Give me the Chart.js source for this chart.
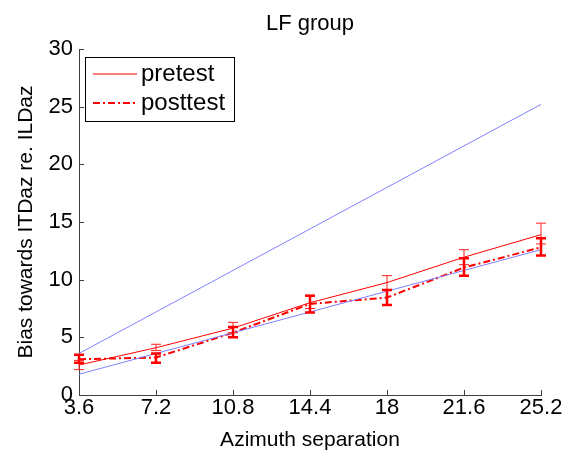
<!DOCTYPE html>
<html>
<head>
<meta charset="utf-8">
<script src="https://cdn.jsdelivr.net/npm/chart.js@4"></script>
<style>
html, body { margin: 0; padding: 0; background: #fff; }
</style>
</head>
<body>
<canvas id="chart" width="576" height="456"></canvas>
<script>
// azimuth separations and tick labels
const azimuth = [3.6, 7.2, 10.8, 14.4, 18, 21.6, 25.2];
const xTickLabels = ['3.6', '7.2', '10.8', '14.4', '18', '21.6', '25.2'];

// reference lines (full ITD bias and half of it)
const fullBias = [3.6, 7.2, 10.8, 14.4, 18, 21.6, 25.2];
const halfBias = [1.8, 3.6, 5.4, 7.2, 9, 10.8, 12.6];

// pretest mean + error range
const pretest = [2.6, 4.1, 5.8, 8.0, 9.75, 11.95, 13.9];
const pretestLow = [2.2, 3.85, 5.4, 7.5, 9.1, 11.3, 13.1];
const pretestHigh = [3.0, 4.4, 6.3, 8.65, 10.35, 12.6, 14.9];

// posttest mean + error range
const posttest = [3.1, 3.25, 5.4, 7.9, 8.45, 11.05, 12.8];
const posttestLow = [2.8, 2.8, 5.0, 7.15, 7.8, 10.35, 12.1];
const posttestHigh = [3.5, 3.6, 5.9, 8.6, 9.1, 11.85, 13.6];

const FONT = "'Liberation Sans', Arial, sans-serif";

const pts = (ys) => azimuth.map((x, i) => ({ x: x, y: ys[i] }));

// error bars drawn with the chart's own scales
const errorBars = {
    id: 'errorBars',
    afterDatasetsDraw(chart) {
        const { ctx, scales: { x, y } } = chart;
        chart.data.datasets.forEach(ds => {
            if (!ds.errLow) return;
            ctx.save();
            ctx.strokeStyle = ds.errColor;
            ctx.lineWidth = ds.errWidth;
            azimuth.forEach((v, i) => {
                const px = Math.round(x.getPixelForValue(v));
                const lo = y.getPixelForValue(ds.errLow[i]);
                const hi = y.getPixelForValue(ds.errHigh[i]);
                const cap = 5;
                ctx.beginPath();
                ctx.moveTo(px, lo); ctx.lineTo(px, hi);
                ctx.moveTo(px - cap, lo); ctx.lineTo(px + cap, lo);
                ctx.moveTo(px - cap, hi); ctx.lineTo(px + cap, hi);
                ctx.stroke();
            });
            ctx.restore();
        });
    }
};

// matlab-ish inward ticks, title and legend box
const decorations = {
    id: 'decorations',
    afterDraw(chart) {
        const { ctx, chartArea, scales: { x, y } } = chart;
        ctx.save();
        ctx.strokeStyle = '#404040';
        ctx.lineWidth = 1;
        ctx.beginPath();
        x.ticks.forEach(t => {
            const px = Math.round(x.getPixelForValue(t.value)) + 0.5;
            ctx.moveTo(px, chartArea.bottom);
            ctx.lineTo(px, chartArea.bottom - 5);
        });
        y.ticks.forEach(t => {
            const py = Math.round(y.getPixelForValue(t.value)) + 0.5;
            ctx.moveTo(chartArea.left, py);
            ctx.lineTo(chartArea.left + 5, py);
        });
        ctx.stroke();

        // title centred over the axes
        ctx.fillStyle = '#000';
        ctx.font = '22px ' + FONT;
        ctx.textAlign = 'center';
        ctx.textBaseline = 'middle';
        ctx.fillText('LF group', (chartArea.left + chartArea.right) / 2, 24);

        // legend
        ctx.textAlign = 'left';
        ctx.fillStyle = '#fff';
        ctx.fillRect(85, 57, 149, 64);
        ctx.strokeStyle = '#000';
        ctx.lineWidth = 1;
        ctx.strokeRect(85.5, 57.5, 149, 64);
        ctx.strokeStyle = '#ff0000';
        ctx.lineWidth = 1.2;
        ctx.beginPath();
        ctx.moveTo(93, 74); ctx.lineTo(137, 74);
        ctx.stroke();
        ctx.lineWidth = 2;
        ctx.setLineDash([7, 3, 2, 3]);
        ctx.beginPath();
        ctx.moveTo(93, 103); ctx.lineTo(137, 103);
        ctx.stroke();
        ctx.setLineDash([]);
        ctx.fillStyle = '#000';
        ctx.font = '24px ' + FONT;
        ctx.fillText('pretest', 141, 74);
        ctx.fillText('posttest', 141, 103);
        ctx.restore();
    }
};

new Chart(document.getElementById('chart'), {
    type: 'line',
    data: {
        datasets: [
            {
                label: 'full',
                data: pts(fullBias),
                borderColor: '#8080ff',
                borderWidth: 1,
                pointRadius: 0
            },
            {
                label: 'half',
                data: pts(halfBias),
                borderColor: '#8080ff',
                borderWidth: 1,
                pointRadius: 0
            },
            {
                label: 'pretest',
                data: pts(pretest),
                borderColor: '#ff0000',
                borderWidth: 1,
                pointRadius: 0,
                errLow: pretestLow,
                errHigh: pretestHigh,
                errColor: '#ff2020',
                errWidth: 1
            },
            {
                label: 'posttest',
                data: pts(posttest),
                borderColor: '#ff0000',
                borderWidth: 2,
                borderDash: [7, 3, 2, 3],
                pointRadius: 0,
                errLow: posttestLow,
                errHigh: posttestHigh,
                errColor: '#ff0000',
                errWidth: 2.5
            }
        ]
    },
    options: {
        responsive: false,
        devicePixelRatio: 1,
        animation: false,
        layout: { padding: { left: 0, right: 35, top: 49, bottom: 0 } },
        plugins: {
            legend: { display: false },
            tooltip: { enabled: false },
            title: { display: false }
        },
        scales: {
            x: {
                type: 'linear',
                min: 3.6,
                max: 25.2,
                afterBuildTicks: s => { s.ticks = azimuth.map(v => ({ value: v })); },
                afterFit: s => { s.height = 61; },
                ticks: {
                    callback: (v, i) => xTickLabels[i],
                    color: '#000',
                    font: { family: FONT, size: 22 },
                    padding: 0,
                    maxRotation: 0,
                    autoSkip: false
                },
                grid: { display: false, drawTicks: false },
                border: { display: true, color: '#404040', width: 1 },
                title: {
                    display: true,
                    text: 'Azimuth separation',
                    color: '#000',
                    font: { family: FONT, size: 21 },
                    padding: { top: 0, bottom: 3 }
                }
            },
            y: {
                min: 0,
                max: 30,
                afterFit: s => { s.width = 79; },
                ticks: {
                    stepSize: 5,
                    color: '#000',
                    font: { family: FONT, size: 22 },
                    padding: 6
                },
                grid: { display: false, drawTicks: false },
                border: { display: true, color: '#404040', width: 1 },
                title: {
                    display: true,
                    text: 'Bias towards ITDaz re. ILDaz',
                    color: '#000',
                    font: { family: FONT, size: 21 },
                    padding: { top: 14, bottom: 0 }
                }
            }
        }
    },
    plugins: [errorBars, decorations]
});
</script>
</body>
</html>
